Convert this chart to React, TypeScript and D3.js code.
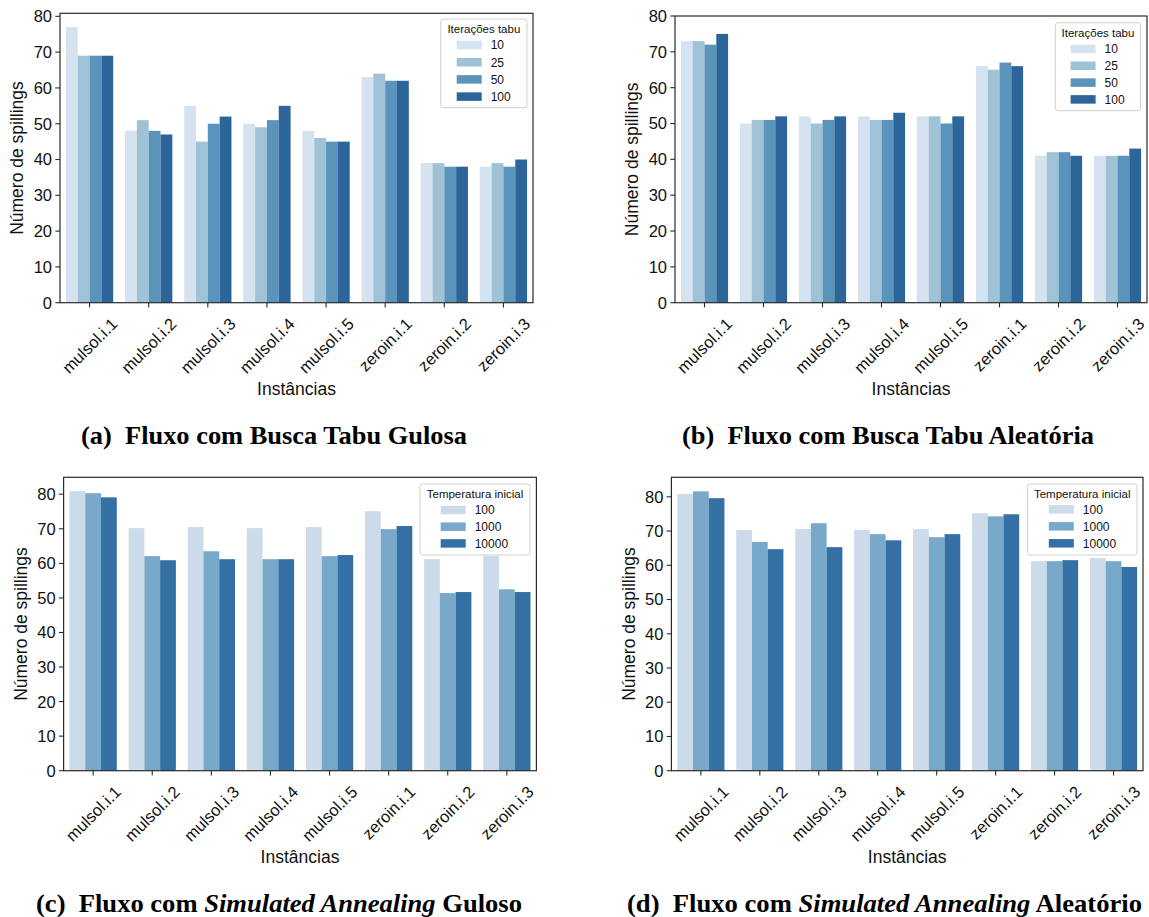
import React from 'react';
import * as d3 from 'd3';

// ---------- data ----------
const instances = [
  'mulsol.i.1', 'mulsol.i.2', 'mulsol.i.3', 'mulsol.i.4',
  'mulsol.i.5', 'zeroin.i.1', 'zeroin.i.2', 'zeroin.i.3',
];

const tabuIterations = ['10', '25', '50', '100'];
const saTemperatures = ['100', '1000', '10000'];
const yTicks = [0, 10, 20, 30, 40, 50, 60, 70, 80];

// (a) greedy tabu search, one array per tabu iteration count
const greedyTabu10 = [77, 48, 55, 50, 48, 63, 39, 38];
const greedyTabu25 = [69, 51, 45, 49, 46, 64, 39, 39];
const greedyTabu50 = [69, 48, 50, 51, 45, 62, 38, 38];
const greedyTabu100 = [69, 47, 52, 55, 45, 62, 38, 40];

// (b) random tabu search
const randomTabu10 = [73, 50, 52, 52, 52, 66, 41, 41];
const randomTabu25 = [73, 51, 50, 51, 52, 65, 42, 41];
const randomTabu50 = [72, 51, 51, 51, 50, 67, 42, 41];
const randomTabu100 = [75, 52, 52, 53, 52, 66, 41, 43];

// (c) greedy simulated annealing, one array per initial temperature
const greedySA100 = [80.9, 70.2, 70.5, 70.2, 70.5, 75.1, 61.2, 62.1];
const greedySA1000 = [80.3, 62.1, 63.5, 61.2, 62.1, 69.9, 51.4, 52.5];
const greedySA10000 = [79.1, 60.9, 61.2, 61.2, 62.4, 70.8, 51.7, 51.7];

// (d) random simulated annealing
const randomSA100 = [80.8, 70.3, 70.6, 70.3, 70.6, 75.2, 61.2, 62.1];
const randomSA1000 = [81.6, 66.8, 72.3, 69.1, 68.2, 74.3, 61.2, 61.2];
const randomSA10000 = [79.6, 64.7, 65.3, 67.3, 69.1, 74.9, 61.5, 59.5];

// ---------- styling ----------
const W = 1149;
const H = 917;
const SANS = "'Liberation Sans', Arial, Helvetica, sans-serif";
const SERIF = "'Liberation Serif', 'Times New Roman', Times, serif";
const TICK_FS = 16.5;
const LABEL_FS = 17.5;
const LEGEND_FS = 12;
const LEGEND_TITLE_FS = 11.5;
const CAPTION_FS = 25.5;
const SPINE = '#2b2b2b';
const TEXT = '#111111';

const tabuColors = ['#d5e2ef', '#9fc2d7', '#5b94bb', '#2c6599'];
const saColors = ['#cbdbea', '#78a9ca', '#3470a4'];

type Series = { name: string; values: number[]; color: string };
type CaptionPart = { text: string; italic?: boolean };
type PanelSpec = {
  id: string;
  left: number; right: number; top: number; bottom: number;
  yMax: number;
  series: Series[];
  legendTitle: string;
  legend: { x0: number; y0: number; x1: number; y1: number; patchX: number; rowY: number; rowStep: number };
  yLabelX: number;
  caption: CaptionPart[];
  captionX0: number; captionX1: number; captionY: number;
};

const makeSeries = (names: string[], arrays: number[][], colors: string[]): Series[] =>
  names.map((n, i) => ({ name: n, values: arrays[i], color: colors[i] }));

const panels: PanelSpec[] = [
  {
    id: 'a', left: 60, right: 533, top: 13.3, bottom: 302.7, yMax: 80.85,
    series: makeSeries(tabuIterations, [greedyTabu10, greedyTabu25, greedyTabu50, greedyTabu100], tabuColors),
    legendTitle: 'Iterações tabu',
    legend: { x0: 440.7, y0: 19, x1: 527, y1: 107.7, patchX: 456.7, rowY: 45, rowStep: 17.2 },
    yLabelX: 17,
    caption: [{ text: '(a)\u2002Fluxo com Busca Tabu Gulosa' }],
    captionX0: 81, captionX1: 467, captionY: 444,
  },
  {
    id: 'b', left: 675, right: 1147, top: 16, bottom: 302.7, yMax: 80,
    series: makeSeries(tabuIterations, [randomTabu10, randomTabu25, randomTabu50, randomTabu100], tabuColors),
    legendTitle: 'Iterações tabu',
    legend: { x0: 1055.3, y0: 22.7, x1: 1140.6, y1: 110.7, patchX: 1070.6, rowY: 49, rowStep: 16.8 },
    yLabelX: 632,
    caption: [{ text: '(b)\u2002Fluxo com Busca Tabu Aleatória' }],
    captionX0: 682, captionX1: 1094, captionY: 444,
  },
  {
    id: 'c', left: 63.6, right: 536.4, top: 477.3, bottom: 770.7, yMax: 84.9,
    series: makeSeries(saTemperatures, [greedySA100, greedySA1000, greedySA10000], saColors),
    legendTitle: 'Temperatura inicial',
    legend: { x0: 420, y0: 484, x1: 530, y1: 555, patchX: 440.7, rowY: 510, rowStep: 16.7 },
    yLabelX: 21,
    caption: [
      { text: '(c)\u2002Fluxo com ' },
      { text: 'Simulated Annealing', italic: true },
      { text: ' Guloso' },
    ],
    captionX0: 36, captionX1: 522, captionY: 912,
  },
  {
    id: 'd', left: 671.4, right: 1143, top: 477.3, bottom: 770.7, yMax: 85.7,
    series: makeSeries(saTemperatures, [randomSA100, randomSA1000, randomSA10000], saColors),
    legendTitle: 'Temperatura inicial',
    legend: { x0: 1027.4, y0: 484, x1: 1137, y1: 555, patchX: 1048.8, rowY: 509.3, rowStep: 17 },
    yLabelX: 629,
    caption: [
      { text: '(d)\u2002Fluxo com ' },
      { text: 'Simulated Annealing', italic: true },
      { text: ' Aleatório' },
    ],
    captionX0: 627, captionX1: 1142, captionY: 912,
  },
];

// text measurement for rotated tick labels
let measureCtx: CanvasRenderingContext2D | null = null;
function textWidth(s: string, font: string): number {
  if (!measureCtx && typeof document !== 'undefined') {
    measureCtx = document.createElement('canvas').getContext('2d');
  }
  if (!measureCtx) return s.length * 8;
  measureCtx.font = font;
  return measureCtx.measureText(s).width;
}

function Panel({ p }: { p: PanelSpec }) {
  const x = d3.scaleBand<string>()
    .domain(instances)
    .range([p.left, p.right])
    .paddingInner(0.2)
    .paddingOuter(0.1);
  const hue = d3.scaleBand<string>()
    .domain(p.series.map((s) => s.name))
    .range([0, x.bandwidth()])
    .padding(0);
  const y = d3.scaleLinear().domain([0, p.yMax]).range([p.bottom, p.top]);

  const tickLen = 4.7;
  const cx = (p.left + p.right) / 2;
  const cy = (p.top + p.bottom) / 2;
  const lg = p.legend;
  const patchW = 25;
  const patchH = 8.5;

  return (
    <g>
      {/* bars */}
      {p.series.map((s) => (
        <g key={s.name}>
          {instances.map((inst, i) => (
            <rect
              key={inst}
              x={(x(inst) as number) + (hue(s.name) as number)}
              y={y(s.values[i])}
              width={hue.bandwidth()}
              height={y(0) - y(s.values[i])}
              fill={s.color}
            />
          ))}
        </g>
      ))}

      {/* frame */}
      <rect x={p.left} y={p.top} width={p.right - p.left} height={p.bottom - p.top}
        fill="none" stroke={SPINE} strokeWidth={1.2} />

      {/* y axis */}
      {yTicks.filter((t) => t <= p.yMax).map((t) => (
        <g key={t}>
          <line x1={p.left - tickLen} x2={p.left} y1={y(t)} y2={y(t)} stroke={SPINE} strokeWidth={1.1} />
          <text x={p.left - tickLen - 3.3} y={y(t)} dy="0.36em" textAnchor="end"
            fontFamily={SANS} fontSize={TICK_FS} fill={TEXT}>{t}</text>
        </g>
      ))}
      <text transform={`translate(${p.yLabelX},${cy}) rotate(-90)`} dy="0.36em" textAnchor="middle"
        fontFamily={SANS} fontSize={LABEL_FS} fill={TEXT}>Número de spillings</text>

      {/* x axis */}
      {instances.map((inst) => {
        const tx = (x(inst) as number) + x.bandwidth() / 2;
        const L = textWidth(inst, `${TICK_FS}px ${SANS}`);
        const inkH = (L + 0.72 * TICK_FS) / Math.SQRT2;
        const ly = p.bottom + 14 + inkH / 2;
        return (
          <g key={inst}>
            <line x1={tx} x2={tx} y1={p.bottom} y2={p.bottom + tickLen} stroke={SPINE} strokeWidth={1.1} />
            <text transform={`translate(${tx},${ly}) rotate(-45)`} dy={0.36 * TICK_FS} textAnchor="middle"
              fontFamily={SANS} fontSize={TICK_FS} fill={TEXT}>{inst}</text>
          </g>
        );
      })}
      <text x={cx} y={p.bottom + 86.3} dy="0.36em" textAnchor="middle"
        fontFamily={SANS} fontSize={LABEL_FS} fill={TEXT}>Instâncias</text>

      {/* legend */}
      <rect x={lg.x0} y={lg.y0} width={lg.x1 - lg.x0} height={lg.y1 - lg.y0} rx={2.5}
        fill="#ffffff" fillOpacity={0.85} stroke="#d0d0d0" strokeWidth={1} />
      <text x={(lg.x0 + lg.x1) / 2} y={lg.y0 + 10.3} dy="0.36em" textAnchor="middle"
        fontFamily={SANS} fontSize={LEGEND_TITLE_FS} fill={TEXT}>{p.legendTitle}</text>
      {p.series.map((s, i) => {
        const ry = lg.rowY + i * lg.rowStep;
        return (
          <g key={s.name}>
            <rect x={lg.patchX} y={ry - patchH / 2} width={patchW} height={patchH} fill={s.color} />
            <text x={lg.patchX + patchW + 9} y={ry} dy="0.36em"
              fontFamily={SANS} fontSize={LEGEND_FS} fill={TEXT}>{s.name}</text>
          </g>
        );
      })}

      {/* caption */}
      <text x={p.captionX0} y={p.captionY} textLength={p.captionX1 - p.captionX0}
        lengthAdjust="spacingAndGlyphs"
        fontFamily={SERIF} fontSize={CAPTION_FS} fontWeight="bold" fill="#000">
        {p.caption.map((c, i) => (
          <tspan key={i} fontStyle={c.italic ? 'italic' : 'normal'}>{c.text}</tspan>
        ))}
      </text>
    </g>
  );
}

export default function App() {
  return (
    <svg width={W} height={H} viewBox={`0 0 ${W} ${H}`}
      style={{ position: 'absolute', left: 0, top: 0, background: '#fff' }}>
      <rect x={0} y={0} width={W} height={H} fill="#fff" />
      {panels.map((p) => <Panel key={p.id} p={p} />)}
    </svg>
  );
}
